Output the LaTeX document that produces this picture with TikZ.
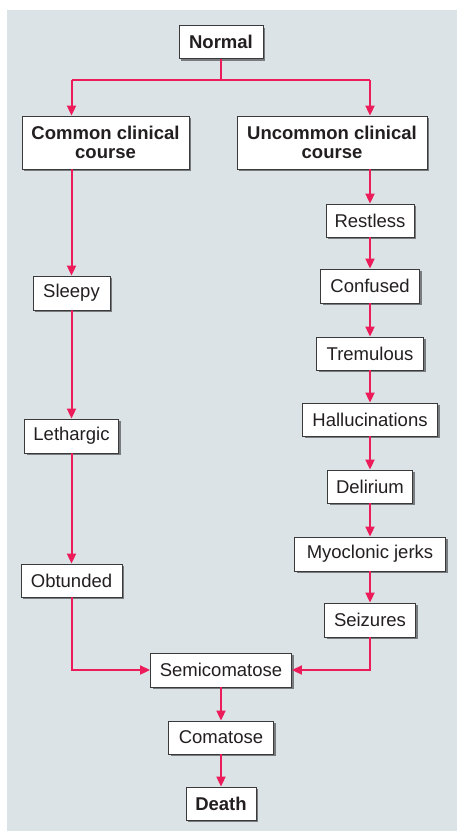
\documentclass[tikz,border=0pt]{standalone}
\usepackage{fontspec}
\setmainfont{Liberation Sans}
\usetikzlibrary{arrows.meta,shadows}
\definecolor{panel}{HTML}{DCE3E7}
\definecolor{flow}{HTML}{EC1B5A}
\definecolor{ink}{HTML}{231F20}
\definecolor{edge}{HTML}{3A3A3A}
\begin{document}
\begin{tikzpicture}[x=1pt,y=-1pt,
  box/.style={draw=edge, line width=0.9pt, fill=white, inner sep=0pt, align=center,
    text=ink, font=\fontsize{18.5}{19.5}\selectfont,
    drop shadow={shadow xshift=2pt, shadow yshift=-2pt, fill=black, opacity=0.45}},
  bbox/.style={box, font=\fontsize{18.5}{19.5}\selectfont\bfseries},
  arr/.style={draw=flow, line width=2pt, -{Triangle[length=10pt,width=9pt]}},
  ln/.style={draw=flow, line width=2pt}]
\useasboundingbox (0,0) rectangle (457,831);
\fill[panel] (7,10) rectangle (457,831);
% nodes
\node[bbox, minimum width=84pt, minimum height=33pt] (normal) at (221,42) {Normal};
\node[bbox, minimum width=167pt, minimum height=53pt] (common) at (105.5,142.5) {Common clinical\\course};
\node[bbox, minimum width=190pt, minimum height=53pt] (uncommon) at (332,142.5) {Uncommon clinical\\course};
\node[box, minimum width=77pt, minimum height=34pt] (sleepy) at (71.5,293) {Sleepy};
\node[box, minimum width=94pt, minimum height=34pt] (lethargic) at (71.5,436) {Lethargic};
\node[box, minimum width=101pt, minimum height=33pt] (obtunded) at (71.5,580.5) {Obtunded};
\node[box, minimum width=88pt, minimum height=33pt] (restless) at (370,220.5) {Restless};
\node[box, minimum width=99pt, minimum height=34pt] (confused) at (370,286) {Confused};
\node[box, minimum width=107pt, minimum height=33pt] (tremulous) at (370,353.5) {Tremulous};
\node[box, minimum width=135pt, minimum height=33pt] (halluc) at (370,419.5) {Hallucinations};
\node[box, minimum width=85pt, minimum height=33pt] (delirium) at (370,486.5) {Delirium};
\node[box, minimum width=151pt, minimum height=34pt] (myoclonic) at (370,554) {Myoclonic jerks};
\node[box, minimum width=91pt, minimum height=34pt] (seizures) at (370,620) {Seizures};
\node[box, minimum width=141pt, minimum height=34pt] (semi) at (221,670) {Semicomatose};
\node[box, minimum width=105pt, minimum height=33pt] (comatose) at (221,737.5) {Comatose};
\node[bbox, minimum width=70pt, minimum height=33pt] (death) at (221,803.5) {Death};
% connectors
\coordinate (split) at (221,80);
\coordinate (splitL) at (71.5,80);
\coordinate (splitR) at (370,80);
\draw[ln] (normal.south) -- (split);
\draw[ln] (splitL) -- (splitR);
\draw[arr] (splitL) -- (splitL |- common.north);
\draw[arr] (splitR) -- (splitR |- uncommon.north);
\draw[arr] (sleepy.north |- common.south) -- (sleepy.north);
\draw[arr] (sleepy) -- (lethargic);
\draw[arr] (lethargic) -- (obtunded);
\draw[arr] (obtunded.south) |- (semi.west);
\draw[arr] (restless.north |- uncommon.south) -- (restless.north);
\draw[arr] (restless) -- (confused);
\draw[arr] (confused) -- (tremulous);
\draw[arr] (tremulous) -- (halluc);
\draw[arr] (halluc) -- (delirium);
\draw[arr] (delirium) -- (myoclonic);
\draw[arr] (myoclonic) -- (seizures);
\draw[arr] (seizures.south) |- (semi.east);
\draw[arr] (semi) -- (comatose);
\draw[arr] (comatose) -- (death);
\end{tikzpicture}
\end{document}
